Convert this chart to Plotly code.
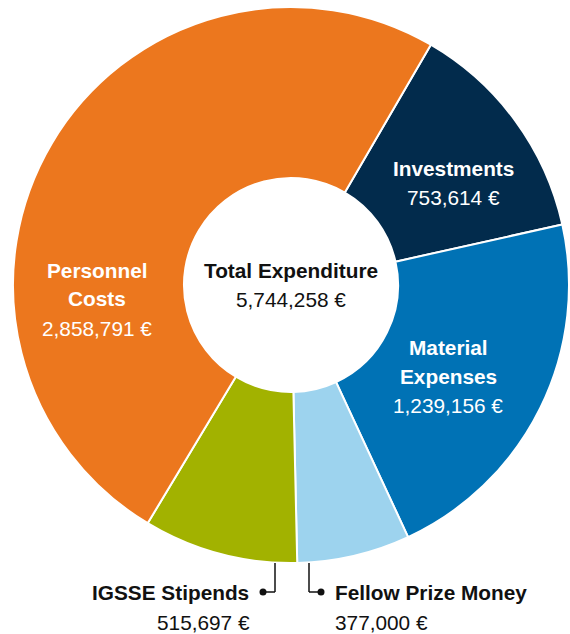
import plotly.graph_objects as go

# ---- data ----
categories = ["Investments", "Material Expenses", "Fellow Prize Money", "IGSSE Stipends", "Personnel Costs"]
values = [753614, 1239156, 377000, 515697, 2858791]
total_label = "Total Expenditure"
total_value = 5744258

colors = ["#022B4C", "#0072B5", "#9DD3EE", "#A2B200", "#EC771E"]

W, H = 570, 634
CX, CY, R = 291, 285, 278  # pixel geometry of the donut

def fmt(v):
    return f"{v:,} €"

fig = go.Figure(go.Pie(
    labels=categories,
    values=values,
    sort=False,
    direction="clockwise",
    rotation=30.2,
    hole=0.385,
    marker=dict(colors=colors, line=dict(color="white", width=2)),
    textinfo="none",
    hoverinfo="label+value",
    domain=dict(x=[(CX - R) / W, (CX + R) / W], y=[1 - (CY + R) / H, 1 - (CY - R) / H]),
    showlegend=False,
))

FONT = "Arial, Liberation Sans, Helvetica, sans-serif"
annotations = []

def px(x, y):
    return x / W, 1 - y / H

def add_text(x, y, text, color, bold=False, xanchor="center", size=20.8):
    ax, ay = px(x, y)
    annotations.append(dict(
        x=ax, y=ay, xref="paper", yref="paper", showarrow=False,
        text=f"<b>{text}</b>" if bold else text,
        font=dict(family=FONT, size=size, color=color),
        xanchor=xanchor, yanchor="middle",
    ))

# center
add_text(CX, 270, total_label, "#111111", bold=True)
add_text(CX, 300, fmt(total_value), "#111111")

# inside labels (name lines, value)
inside = {
    "Personnel Costs": (["Personnel", "Costs"], 97, 270),
    "Investments": (["Investments"], 453, 168),
    "Material Expenses": (["Material", "Expenses"], 448, 347),
}
for name, (lines, x, y0) in inside.items():
    v = values[categories.index(name)]
    yy = y0
    for ln in lines:
        add_text(x, yy, ln, "white", bold=True)
        yy += 29
    add_text(x, yy, fmt(v), "white")

# outside labels
v_igsse = values[categories.index("IGSSE Stipends")]
v_fellow = values[categories.index("Fellow Prize Money")]
add_text(251, 592, "IGSSE Stipends", "#111111", bold=True, xanchor="right")
add_text(252, 622, fmt(v_igsse), "#111111", xanchor="right")
add_text(333, 592, "Fellow Prize Money", "#111111", bold=True, xanchor="left")
add_text(333, 622, fmt(v_fellow), "#111111", xanchor="left")

shapes = []
def line(x0, y0, x1, y1):
    a0, b0 = px(x0, y0)
    a1, b1 = px(x1, y1)
    shapes.append(dict(type="line", xref="paper", yref="paper", x0=a0, y0=b0, x1=a1, y1=b1,
                       line=dict(color="#111111", width=1.5)))
def dot(x, y, r=3.5):
    a0, b0 = px(x - r, y + r)
    a1, b1 = px(x + r, y - r)
    shapes.append(dict(type="circle", xref="paper", yref="paper", x0=a0, y0=b0, x1=a1, y1=b1,
                       fillcolor="#111111", line=dict(color="#111111", width=0)))

line(275, 563, 275, 592); line(275, 592, 263, 592); dot(263, 592)
line(309, 563, 309, 592); line(309, 592, 321, 592); dot(321, 592)

fig.update_layout(
    width=W, height=H,
    margin=dict(l=0, r=0, t=0, b=0),
    paper_bgcolor="white", plot_bgcolor="white",
    annotations=annotations, shapes=shapes,
)

fig.write_html("out.html", config={"displayModeBar": False},
               post_script="document.body.style.margin='0';document.body.style.overflow='hidden';")
